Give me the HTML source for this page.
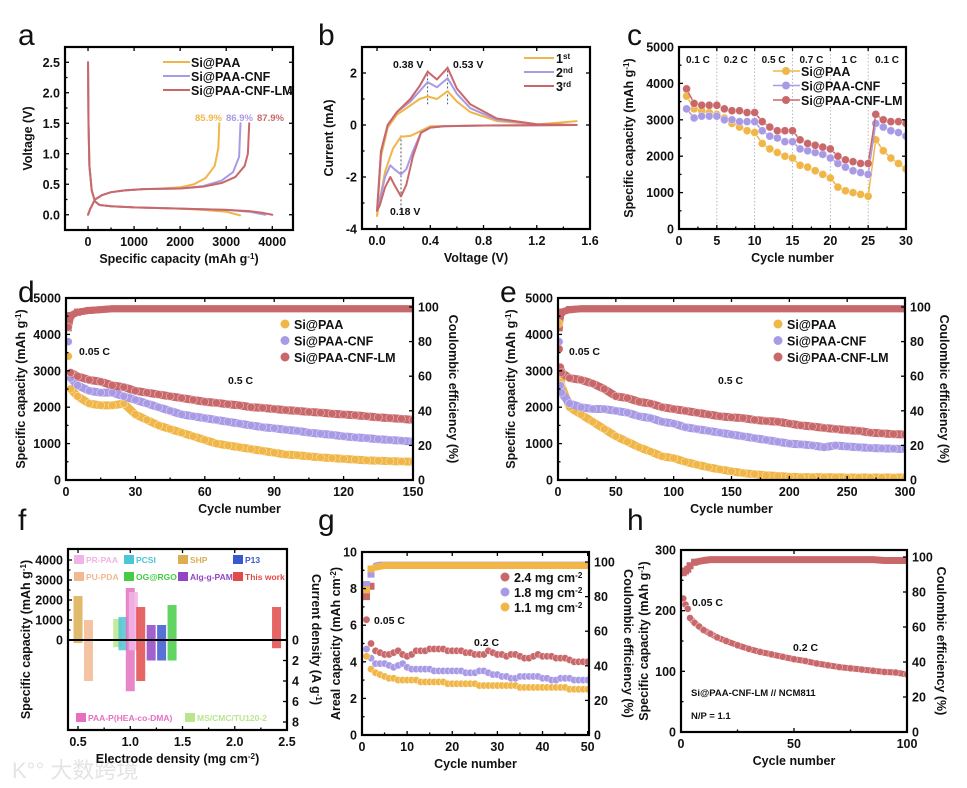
<!DOCTYPE html>
<html><head><meta charset="utf-8">
<style>
html,body{margin:0;padding:0;background:#fff;}
svg{display:block;font-family:"Liberation Sans","Noto Sans CJK SC",sans-serif;}
text{font-weight:bold;fill:#111;}
</style></head>
<body>
<svg id="fig" xmlns="http://www.w3.org/2000/svg" width="967" height="788" viewBox="0 0 967 788">
<rect x="0" y="0" width="967" height="788" fill="#fff"/>
<text x="12" y="778" font-size="22" style="fill:#e4e4e4;font-weight:normal">K°° 大数跨境</text>
</svg>
<script>
// ---------- DATA ----------
// a: galvanostatic profiles
const aDisQ_o=[0,10,30,80,150,250,500,1000,1500,2000,2500,3000,3300];
const aDisV_o=[2.5,1.5,0.8,0.4,0.22,0.16,0.14,0.12,0.11,0.1,0.08,0.05,-0.01];
const aDisQ_p=[0,10,30,80,150,250,500,1000,1500,2000,2500,3000,3500,3850];
const aDisV_p=[2.5,1.5,0.8,0.4,0.22,0.16,0.14,0.12,0.11,0.1,0.09,0.08,0.05,0.0];
const aDisQ_r=[0,10,30,80,150,250,500,1000,1500,2000,2500,3000,3500,3800,4000];
const aDisV_r=[2.5,1.5,0.8,0.4,0.22,0.16,0.14,0.12,0.11,0.1,0.09,0.08,0.06,0.03,0.0];
const aChQ_o=[0,50,150,300,500,800,1200,1600,2000,2300,2550,2750,2830,2850];
const aChV_o=[0,0.1,0.25,0.32,0.37,0.4,0.42,0.43,0.45,0.5,0.6,0.8,1.1,1.5];
const aChQ_p=[0,50,150,300,500,800,1200,2000,2500,2900,3150,3280,3310];
const aChV_p=[0,0.1,0.25,0.32,0.37,0.4,0.42,0.43,0.47,0.56,0.7,0.95,1.5];
const aChQ_r=[0,50,150,300,500,800,1200,2000,2500,2900,3200,3400,3470,3500];
const aChV_r=[0,0.1,0.25,0.32,0.37,0.4,0.42,0.43,0.46,0.52,0.62,0.8,1.0,1.5];
const aCE=["85.9%","86.9%","87.9%"];
// b: CV curves
const bV_o=[1.5,0.8,0.4,0.3,0.25,0.18,0.12,0.06,0.02,0,0.03,0.08,0.15,0.25,0.32,0.38,0.45,0.53,0.6,0.7,0.9,1.2,1.5];
const bI_o=[0,-0.02,-0.05,-0.3,-0.42,-0.45,-0.9,-1.8,-2.9,-3.5,-1.2,-0.1,0.4,0.75,1.0,1.1,1.0,1.3,0.9,0.5,0.15,0.02,0.15];
const bV_p=[1.5,0.8,0.5,0.4,0.33,0.27,0.22,0.18,0.13,0.1,0.06,0.02,0,0.03,0.08,0.15,0.25,0.32,0.38,0.45,0.53,0.6,0.7,0.9,1.2,1.5];
const bI_p=[0,-0.02,-0.05,-0.1,-0.3,-1.0,-1.7,-1.9,-1.7,-1.55,-2.0,-2.9,-3.3,-1.0,0.0,0.5,0.9,1.3,1.65,1.45,1.8,1.2,0.65,0.2,0.03,0];
const bV_r=[1.5,0.8,0.5,0.4,0.33,0.27,0.22,0.18,0.13,0.1,0.06,0.02,0,0.03,0.08,0.15,0.25,0.32,0.38,0.45,0.53,0.6,0.7,0.9,1.2,1.5];
const bI_r=[0,-0.02,-0.05,-0.1,-0.3,-1.2,-2.3,-2.75,-2.3,-2.0,-2.4,-3.1,-3.3,-1.0,0.0,0.5,1.0,1.5,2.05,1.75,2.2,1.4,0.8,0.25,0.03,0];
// c: rate capability
const cCycles=[1,2,3,4,5,6,7,8,9,10,11,12,13,14,15,16,17,18,19,20,21,22,23,24,25,26,27,28,29,30];
const cPAA=[3650,3300,3250,3200,3150,3050,2900,2800,2700,2650,2350,2200,2100,2000,1950,1750,1700,1600,1500,1400,1150,1050,1000,950,900,2450,2150,1950,1800,1650];
const cCNF=[3300,3050,3100,3100,3100,3000,3000,2950,2950,2950,2700,2550,2500,2400,2400,2200,2150,2100,2050,1950,1800,1700,1600,1550,1500,2900,2800,2700,2650,2550];
const cLM=[3850,3450,3400,3400,3400,3300,3250,3250,3200,3200,2950,2800,2700,2700,2700,2450,2350,2300,2250,2200,2000,1900,1850,1800,1800,3150,3000,2950,2950,2900];
const cRates=["0.1 C","0.2 C","0.5 C","0.7 C","1 C","0.1 C"];
const cRatePos=[2.5,7.5,12.5,17.5,22.5,27.5];
const cDividers=[5,10,15,20,25];
// d: cycling 150
const dCycles=[1,2,5,10,15,20,25,30,35,40,45,50,55,60,65,70,75,80,85,90,95,100,105,110,115,120,125,130,135,140,145,150];
const dPAA=[3400,2500,2300,2100,2050,2050,2100,1800,1650,1500,1400,1300,1200,1100,1000,950,900,850,800,750,700,680,650,620,600,580,560,540,530,520,510,500];
const dCNF=[3800,2800,2600,2450,2400,2400,2300,2200,2100,2000,1900,1800,1750,1700,1650,1600,1550,1500,1450,1420,1380,1350,1300,1270,1240,1200,1170,1150,1120,1100,1080,1050];
const dLM=[4200,2950,2850,2750,2700,2600,2550,2450,2400,2350,2300,2250,2200,2150,2120,2080,2050,2000,1980,1950,1920,1900,1870,1850,1820,1800,1780,1750,1720,1700,1680,1650];
const dCE=[88,95,97,98,98.5,99,99,99,99,99,99,99,99,99,99,99,99,99,99,99,99,99,99,99,99,99,99,99,99,99,99,99];
// e: cycling 300
const eCycles=[1,2,3,10,20,30,40,50,60,70,80,90,100,110,120,130,140,150,160,170,180,190,200,210,220,230,240,250,260,270,280,290,300];
const ePAA=[4300,2900,2600,2000,1800,1600,1400,1200,1050,900,780,650,600,500,420,350,290,240,190,160,130,110,90,80,80,75,75,70,70,70,70,70,70];
const eCNF=[3800,2600,2400,2100,2000,1950,1950,1900,1850,1750,1700,1600,1550,1450,1400,1350,1300,1250,1200,1150,1100,1050,1000,980,950,900,950,920,900,880,870,860,850];
const eLM=[3600,3100,2950,2800,2750,2650,2500,2300,2250,2150,2100,2000,1950,1900,1850,1800,1750,1720,1700,1650,1620,1600,1550,1500,1470,1430,1400,1370,1350,1300,1280,1260,1250];
const eCE=[88,95,97,98.5,99,99,99,99,99,99,99,99,99,99,99,99,99,99,99,99,99,99,99,99,99,99,99,99,99,99,99,99,99];
// f: comparison bars
const fNames=["SHP","PU-PDA","MS/CMC/TU120-2","PCSI","PAA-P(HEA-co-DMA)","PR-PAA","This work","Alg-g-PAM","P13","OG@RGO","This work"];
const fDensity=[0.5,0.6,0.88,0.93,1.0,1.03,1.1,1.2,1.3,1.4,2.4];
const fCapacity=[2200,1000,1050,1150,2600,2400,1650,750,750,1750,1650];
const fCurrent=[0.3,4,0.7,1.0,5,1.0,4,2,2,2,0.8];
const fColors=["#dcae52","#f2b890","#b9e68c","#4cc6d6","#e570bf","#f1b4e6","#e24a4a","#9346c2","#3a58d0","#45cc45","#e24a4a"];
// g: areal capacity
const gCycles=[1,2,3,4,5,6,7,8,9,10,11,12,13,14,15,16,17,18,19,20,21,22,23,24,25,26,27,28,29,30,31,32,33,34,35,36,37,38,39,40,41,42,43,44,45,46,47,48,49,50];
const g24=[6.3,5.0,4.6,4.5,4.4,4.4,4.5,4.6,4.4,4.3,4.4,4.6,4.6,4.6,4.7,4.7,4.7,4.7,4.6,4.6,4.6,4.6,4.5,4.5,4.4,4.4,4.4,4.6,4.5,4.4,4.4,4.3,4.4,4.4,4.3,4.2,4.2,4.3,4.4,4.3,4.3,4.3,4.2,4.2,4.2,4.1,4.0,4.0,4.0,4.0];
const g18=[4.7,4.2,3.9,3.9,3.9,3.8,3.7,3.8,3.9,3.7,3.6,3.6,3.6,3.6,3.6,3.5,3.5,3.5,3.5,3.5,3.5,3.5,3.4,3.4,3.4,3.5,3.5,3.4,3.3,3.3,3.2,3.2,3.1,3.1,3.2,3.2,3.2,3.2,3.2,3.1,3.1,3.0,3.0,3.1,3.1,3.1,3.0,3.0,3.0,3.0];
const g11=[4.3,3.6,3.4,3.3,3.2,3.1,3.1,3.0,3.0,3.0,3.0,3.0,2.9,2.9,2.9,2.9,2.9,2.9,2.8,2.8,2.8,2.8,2.8,2.8,2.8,2.7,2.7,2.7,2.7,2.7,2.7,2.7,2.7,2.7,2.6,2.6,2.6,2.6,2.6,2.6,2.6,2.6,2.6,2.6,2.6,2.5,2.5,2.5,2.5,2.5];
const gCE24=[80,86,97,98,98,98,98,98,98,98,98,98,98,98,98,98,98,98,98,98,98,98,98,98,98,98,98,98,98,98,98,98,98,98,98,98,98,98,98,98,98,98,98,98,98,98,98,98,98,98];
const gCE18=[87,93,98,98.5,98.5,98.5,98.5,98.5,98.5,98.5,98.5,98.5,98.5,98.5,98.5,98.5,98.5,98.5,98.5,98.5,98.5,98.5,98.5,98.5,98.5,98.5,98.5,98.5,98.5,98.5,98.5,98.5,98.5,98.5,98.5,98.5,98.5,98.5,98.5,98.5,98.5,98.5,98.5,98.5,98.5,98.5,98.5,98.5,98.5,98.5];
const gCE11=[84,96,97,97.5,98,98,98,98,98,98,98,98,98,98,98,98,98,98,98,98,98,98,98,98,98,98,98,98,98,98,98,98,98,98,98,98,98,98,98,98,98,98,98,98,98,98,98,98,98,98];
// h: full cell
const hCycles=[1,2,3,4,6,8,10,13,16,20,25,30,35,40,45,50,55,60,65,70,75,80,85,90,95,100];
const hCap=[220,210,203,188,180,174,168,162,156,150,143,137,132,128,124,120,117,113,110,107,105,103,101,99,98,95];
const hCE=[91,92,93,95,97,97.5,98,98.5,98.5,98.5,98.5,98.5,98.5,98.5,98.5,98.5,98.5,98.5,98.5,98.5,98.5,98.5,98.5,98,98,98];

// ---------- HELPERS ----------
const NS='http://www.w3.org/2000/svg';
const svg=document.getElementById('fig');
const OR='#f0b648', PU='#a99ae6', RD='#c9686b';
function mk(tag,parent){const e=document.createElementNS(NS,tag);(parent||svg).appendChild(e);return e;}
function at(e,o){for(const k in o)e.setAttribute(k,o[k]);return e;}
function txt(parent,x,y,parts,size,anchor,name,rot,color){
  const t=mk('text',parent);
  at(t,{x:x,y:y,'font-size':size,'text-anchor':anchor||'start'});
  if(rot)t.setAttribute('transform','rotate('+rot+' '+x+' '+y+')');
  if(color)t.style.fill=color;
  
  
  if(typeof parts==='string')parts=[[parts,0]];
  parts.forEach(p=>{const s=mk('tspan',t);s.textContent=p[0];if(p[1]){s.setAttribute('baseline-shift','super');s.setAttribute('font-size',size*0.65);}});
  return t;
}
let clipId=0;
function panel(p){
  const g=mk('g');
  
  
  const sx=v=>p.x0+(v-p.xmin)/(p.xmax-p.xmin)*(p.x1-p.x0);
  const sy=v=>p.y1-(v-p.ymin)/(p.ymax-p.ymin)*(p.y1-p.y0);
  const sy2=v=>p.y1-(v-p.y2min)/(p.y2max-p.y2min)*(p.y1-p.y0);
  const cp=mk('clipPath',g);cp.id='cp'+(clipId++);
  const cr=mk('rect',cp);
  const plot=mk('g',g);plot.setAttribute('clip-path','url(#'+cp.id+')');
  
  
  return {p,g,plot,sx,sy,sy2,cr};
}
function frame(P){
  const p=P.p,g=P.g;
  at(P.cr,{x:p.x0,y:p.y0,width:p.x1-p.x0,height:p.y1-p.y0});
  const ax=mk('g',g);
  
  
  const tick=(x1,y1,x2,y2)=>{at(mk('line',ax),{x1,y1,x2,y2,stroke:'#000','stroke-width':1.3});};
  const mids=a=>{const m=[];for(let i=0;i<a.length-1;i++)m.push((a[i]+a[i+1])/2);return m;};
  p.xticks.forEach(v=>{const x=P.sx(v);tick(x,p.y1,x,p.y1-4);tick(x,p.y0,x,p.y0+4);
    txt(ax,x,p.y1+16,p.xfmt?p.xfmt(v):String(v),12.5,'middle','x-tick-label');});
  mids(p.xticks).forEach(v=>{const x=P.sx(v);tick(x,p.y1,x,p.y1-2.5);});
  p.yticks.forEach(v=>{const y=P.sy(v);tick(p.x0,y,p.x0+4,y);if(!p.yticks2)tick(p.x1,y,p.x1-4,y);
    txt(ax,p.x0-5,y+4.5,p.yfmt?p.yfmt(v):String(v),12.5,'end','y-tick-label');});
  mids(p.yticks).forEach(v=>{const y=P.sy(v);tick(p.x0,y,p.x0+2.5,y);});
  if(p.yticks2){p.yticks2.forEach(v=>{const y=P.sy2(v);tick(p.x1,y,p.x1-4,y);
    txt(ax,p.x1+5,y+4.5,String(v),12.5,'start','y2-tick-label');});}
  const r=mk('rect',ax);
  at(r,{x:p.x0,y:p.y0,width:p.x1-p.x0,height:p.y1-p.y0,fill:'none',stroke:'#000','stroke-width':2.2});
  
  
  txt(ax,(p.x0+p.x1)/2,p.y1+33,p.xlabel,12.5,'middle','x-axis-title');
  txt(ax,p.ylx,(p.y0+p.y1)/2,p.ylabel,12.5,'middle','y-axis-title',-90);
  if(p.y2label)txt(ax,p.y2lx,(p.y0+p.y1)/2,p.y2label,12.5,'middle','y2-axis-title',90);
  txt(g,p.lx,p.ly,p.letter,30,'start','panel-letter-'+p.letter).style.fontWeight='normal';
}
function line(P,xs,ys,fy,color,w,name){
  const pl=mk('polyline',P.plot);
  at(pl,{points:xs.map((x,i)=>P.sx(x)+','+fy(ys[i])).join(' '),fill:'none',stroke:color,'stroke-width':w,'stroke-linejoin':'round','stroke-linecap':'round'});
  
  
  return pl;
}
function dots(P,xs,ys,fy,color,r,name,sq){
  const g=mk('g',P.plot);
  
  
  xs.forEach((x,i)=>{
    let c;
    if(sq){c=mk('rect',g);at(c,{x:P.sx(x)-r,y:fy(ys[i])-r,width:2*r,height:2*r,fill:color});}
    else{c=mk('circle',g);at(c,{cx:P.sx(x),cy:fy(ys[i]),r:r,fill:color,stroke:'#fff','stroke-width':0.6,'stroke-opacity':0.6});}
    
    
  });
}
const cap=[['Specific capacity (mAh g',0],['-1',1],[')',0]];

// ---------- PANEL A ----------
{
const P=panel({name:'panel-a'});
Object.assign(P.p,{x0:65,x1:293,y0:47,y1:230,xmin:-500,xmax:4450,ymin:-0.25,ymax:2.75});
line(P,aDisQ_o,aDisV_o,P.sy,OR,2,'a-discharge-si-paa');
line(P,aDisQ_p,aDisV_p,P.sy,PU,2,'a-discharge-si-paa-cnf');
line(P,aDisQ_r,aDisV_r,P.sy,RD,2,'a-discharge-si-paa-cnf-lm');
line(P,aChQ_o,aChV_o,P.sy,OR,2,'a-charge-si-paa');
line(P,aChQ_p,aChV_p,P.sy,PU,2,'a-charge-si-paa-cnf');
line(P,aChQ_r,aChV_r,P.sy,RD,2,'a-charge-si-paa-cnf-lm');
Object.assign(P.p,{xticks:[0,1000,2000,3000,4000],yticks:[0,0.5,1,1.5,2,2.5],yfmt:v=>v.toFixed(1),
 xlabel:[['Specific capacity (mAh g',0],['-1',1],[')',0]],ylabel:'Voltage (V)',ylx:32,letter:'a',lx:18,ly:45});
frame(P);
const names=['Si@PAA','Si@PAA-CNF','Si@PAA-CNF-LM'],cols=[OR,PU,RD];
names.forEach((n,i)=>{const y=62+i*14;
 const l=at(mk('line',P.g),{x1:163,y1:y,x2:190,y2:y,stroke:cols[i],'stroke-width':2});
 
 
 txt(P.g,191,y+5,n,12.5,'start','legend-entry');});
aCE.forEach((t,i)=>txt(P.g,195+i*31,121,t,9.5,'start','ce-annotation',0,[OR,PU,RD][i]));
}
// ---------- PANEL B ----------
{
const P=panel({name:'panel-b'});
Object.assign(P.p,{x0:362,x1:590,y0:47,y1:229,xmin:-0.113,xmax:1.6,ymin:-4,ymax:3.0});
[[0.38,2.1,0.8],[0.53,2.25,0.8],[0.18,-0.4,-3.4]].forEach(d=>{
 const l=at(mk('line',P.plot),{x1:P.sx(d[0]),y1:P.sy(d[1]),x2:P.sx(d[0]),y2:P.sy(d[2]),stroke:'#555','stroke-dasharray':'2,2','stroke-width':1});
 
 });
line(P,bV_o,bI_o,P.sy,OR,2,'b-cv-cycle-1');
line(P,bV_p,bI_p,P.sy,PU,2,'b-cv-cycle-2');
line(P,bV_r,bI_r,P.sy,RD,2,'b-cv-cycle-3');
Object.assign(P.p,{xticks:[0,0.4,0.8,1.2,1.6],xfmt:v=>v.toFixed(1),yticks:[-4,-2,0,2],
 xlabel:'Voltage (V)',ylabel:'Current (mA)',ylx:333,letter:'b',lx:318,ly:45});
frame(P);
txt(P.g,393,68,'0.38 V',10.5,'start','peak-label');
txt(P.g,453,68,'0.53 V',10.5,'start','peak-label');
txt(P.g,390,215,'0.18 V',10.5,'start','peak-label');
[['1','st'],['2','nd'],['3','rd']].forEach((n,i)=>{const y=58+i*14;
 const l=at(mk('line',P.g),{x1:524,y1:y,x2:554,y2:y,stroke:[OR,PU,RD][i],'stroke-width':2});
 
 
 txt(P.g,556,y+5,[[n[0],0],[n[1],1]],12.5,'start','legend-entry');});
}
// ---------- PANEL C ----------
{
const P=panel({name:'panel-c'});
Object.assign(P.p,{x0:679,x1:906,y0:47,y1:229,xmin:0,xmax:30,ymin:0,ymax:5000});
cDividers.forEach(v=>{const l=at(mk('line',P.plot),{x1:P.sx(v),y1:P.p.y0,x2:P.sx(v),y2:P.p.y1,stroke:'#aaa','stroke-dasharray':'1.5,2','stroke-width':0.8});
 
 });
[[cPAA,OR,'c-si-paa'],[cCNF,PU,'c-si-paa-cnf'],[cLM,RD,'c-si-paa-cnf-lm']].forEach(s=>{
 line(P,cCycles,s[0],P.sy,s[1],1.5,s[2]+'-line');dots(P,cCycles,s[0],P.sy,s[1],4,s[2]+'-markers');});
Object.assign(P.p,{xticks:[0,5,10,15,20,25,30],yticks:[0,1000,2000,3000,4000,5000],
 xlabel:'Cycle number',ylabel:cap,ylx:633,letter:'c',lx:627,ly:45});
frame(P);
cRates.forEach((r,i)=>txt(P.g,P.sx(cRatePos[i]),63,r,10,'middle','rate-label'));
['Si@PAA','Si@PAA-CNF','Si@PAA-CNF-LM'].forEach((n,i)=>{const y=71+i*14.5;
 const l=at(mk('line',P.g),{x1:773,y1:y,x2:800,y2:y,stroke:[OR,PU,RD][i],'stroke-width':1.5});
 
 
 const c=at(mk('circle',P.g),{cx:786,cy:y,r:4,fill:[OR,PU,RD][i]});
 
 
 txt(P.g,801,y+5,n,12.5,'start','legend-entry');});
}
// ---------- PANELS D / E ----------
function cyc(cfg){
const P=panel({name:cfg.name});
Object.assign(P.p,cfg.box);
[[cfg.ce,OR],[cfg.ce,PU],[cfg.ce,RD]].forEach((s,i)=>{line(P,cfg.x,s[0],P.sy2,s[1],7,cfg.name+'-ce-'+i+'-band');
 dots(P,cfg.x.slice(0,4),s[0].slice(0,4),P.sy2,s[1],3.5,cfg.name+'-ce-'+i+'-markers',true);});
[[cfg.a,OR,'si-paa'],[cfg.b,PU,'si-paa-cnf'],[cfg.c,RD,'si-paa-cnf-lm']].forEach(s=>{
 line(P,cfg.x.slice(1),s[0].slice(1),P.sy,s[1],8,cfg.name+'-'+s[2]+'-band');
 dots(P,cfg.x,s[0],P.sy,s[1],4,cfg.name+'-'+s[2]+'-markers');});
frame(P);
txt(P.g,cfg.n05,355,'0.05 C',10.5,'start','rate-label');
txt(P.g,cfg.n5,384,'0.5 C',10.5,'start','rate-label');
['Si@PAA','Si@PAA-CNF','Si@PAA-CNF-LM'].forEach((n,i)=>{const y=324+i*16.5;
 const c=at(mk('circle',P.g),{cx:cfg.lgx,cy:y,r:4.5,fill:[OR,PU,RD][i]});
 
 
 txt(P.g,cfg.lgx+9,y+5,n,12.5,'start','legend-entry');});
}
cyc({name:'panel-d',x:dCycles,a:dPAA,b:dCNF,c:dLM,ce:dCE,n05:79,n5:228,lgx:285,
 box:{x0:66,x1:413,y0:298,y1:480,xmin:0,xmax:150,ymin:0,ymax:5000,y2min:0,y2max:105.2,
 xticks:[0,30,60,90,120,150],yticks:[0,1000,2000,3000,4000,5000],yticks2:[0,20,40,60,80,100],
 xlabel:'Cycle number',ylabel:cap,ylx:25,y2label:'Coulombic efficiency (%)',y2lx:449,letter:'d',lx:18,ly:302}});
cyc({name:'panel-e',x:eCycles,a:ePAA,b:eCNF,c:eLM,ce:eCE,n05:569,n5:718,lgx:778,
 box:{x0:558,x1:905,y0:298,y1:480,xmin:0,xmax:300,ymin:0,ymax:5000,y2min:0,y2max:105.2,
 xticks:[0,50,100,150,200,250,300],yticks:[0,1000,2000,3000,4000,5000],yticks2:[0,20,40,60,80,100],
 xlabel:'Cycle number',ylabel:cap,ylx:515,y2label:'Coulombic efficiency (%)',y2lx:940,letter:'e',lx:500,ly:302}});
// ---------- PANEL F ----------
{
const P=panel({name:'panel-f'});
Object.assign(P.p,{x0:68,x1:287,y0:549,y1:730,xmin:0.404,xmax:2.5,ymin:-4500,ymax:4550,y2min:8.78,y2max:-8.88});
fDensity.forEach((d,i)=>{const x=P.sx(d),yt=P.sy(fCapacity[i]),yb=P.sy2(fCurrent[i]);
 const r=at(mk('rect',P.plot),{x:x-4.5,y:yt,width:9,height:yb-yt,fill:fColors[i],opacity:0.85});
 
 });
const z=at(mk('line',P.plot),{x1:P.p.x0,y1:P.sy(0),x2:P.p.x1,y2:P.sy(0),stroke:'#000','stroke-width':2});


Object.assign(P.p,{xticks:[0.5,1.0,1.5,2.0,2.5],xfmt:v=>v.toFixed(1),yticks:[0,1000,2000,3000,4000],yticks2:[0,2,4,6,8],
 xlabel:[['Electrode density (mg cm',0],['-2',1],[')',0]],ylabel:[['Specific  capacity (mAh g',0],['-1',1],[')',0]],ylx:30,
 y2label:[['Current density (A g',0],['-1',1],[')',0]],y2lx:312,letter:'f',lx:18,ly:530});
frame(P);
[['PR-PAA',74,559,'#f1b4e6'],['PCSI',124,559,'#4cc6d6'],['SHP',178,559,'#dcae52'],['P13',233,559,'#3a58d0'],
 ['PU-PDA',74,576,'#f2b890'],['OG@RGO',124,576,'#45cc45'],['Alg-g-PAM',178,576,'#9346c2'],['This work',233,576,'#e24a4a'],
 ['PAA-P(HEA-co-DMA)',76,717,'#e570bf'],['MS/CMC/TU120-2',185,717,'#b9e68c']].forEach(l=>{
 const r=at(mk('rect',P.g),{x:l[1],y:l[2]-4,width:10,height:9,fill:l[3]});
 
 
 txt(P.g,l[1]+12,l[2]+4,l[0],8.5,'start','legend-entry',0,l[3]);});
}
// ---------- PANEL G ----------
{
const P=panel({name:'panel-g'});
Object.assign(P.p,{x0:362,x1:589,y0:552,y1:735,xmin:0,xmax:50.3,ymin:0,ymax:10,y2min:0,y2max:105.8});
line(P,gCycles.slice(2),gCE24.slice(2),P.sy2,RD,6,'g-ce-2-4-band');
dots(P,gCycles.slice(0,2),gCE24.slice(0,2),P.sy2,RD,3.5,'g-ce-2-4-markers',true);
line(P,gCycles.slice(2),gCE18.slice(2),P.sy2,PU,6,'g-ce-1-8-band');
dots(P,gCycles.slice(0,2),gCE18.slice(0,2),P.sy2,PU,3.5,'g-ce-1-8-markers',true);
line(P,gCycles.slice(2),gCE11.slice(2),P.sy2,OR,7,'g-ce-1-1-band');
dots(P,gCycles.slice(0,2),gCE11.slice(0,2),P.sy2,OR,3.5,'g-ce-1-1-markers',true);
dots(P,gCycles,g24,P.sy,RD,3.6,'g-2-4-mg-markers');
dots(P,gCycles,g18,P.sy,PU,3.6,'g-1-8-mg-markers');
dots(P,gCycles,g11,P.sy,OR,3.6,'g-1-1-mg-markers');
Object.assign(P.p,{xticks:[0,10,20,30,40,50],yticks:[0,2,4,6,8,10],yticks2:[0,20,40,60,80,100],
 xlabel:'Cycle number',ylabel:[['Areal capacity (mAh cm',0],['-2',1],[')',0]],ylx:340,
 y2label:'Coulombic efficiency (%)',y2lx:624,letter:'g',lx:318,ly:530});
frame(P);
txt(P.g,374,624,'0.05 C',10.5,'start','rate-label');
txt(P.g,474,646,'0.2 C',10.5,'start','rate-label');
['2.4 mg cm','1.8 mg cm','1.1 mg cm'].forEach((n,i)=>{const y=577+i*15;
 const c=at(mk('circle',P.g),{cx:505,cy:y,r:4.5,fill:[RD,PU,OR][i]});
 
 
 txt(P.g,514,y+5,[[n,0],['-2',1]],12.5,'start','legend-entry');});
}
// ---------- PANEL H ----------
{
const P=panel({name:'panel-h'});
Object.assign(P.p,{x0:681,x1:907,y0:550,y1:732,xmin:0,xmax:100,ymin:0,ymax:300,y2min:0,y2max:104});
line(P,hCycles.slice(4),hCE.slice(4),P.sy2,RD,7,'h-ce-band');
dots(P,hCycles.slice(0,5),hCE.slice(0,5),P.sy2,RD,3.5,'h-ce-markers',true);
line(P,hCycles.slice(3),hCap.slice(3),P.sy,RD,6,'h-capacity-band');
dots(P,hCycles,hCap,P.sy,RD,3.5,'h-capacity-markers');
Object.assign(P.p,{xticks:[0,50,100],yticks:[0,100,200,300],yticks2:[0,20,40,60,80,100],
 xlabel:'Cycle number',ylabel:cap,ylx:648,y2label:'Coulombic efficiency (%)',y2lx:937,letter:'h',lx:627,ly:530});
frame(P);
txt(P.g,692,606,'0.05 C',10.5,'start','rate-label');
txt(P.g,793,651,'0.2 C',10.5,'start','rate-label');
txt(P.g,691,696,'Si@PAA-CNF-LM // NCM811',9.5,'start','cell-annotation');
txt(P.g,691,719,'N/P = 1.1',9.5,'start','np-annotation');
}
</script>
</body></html>
